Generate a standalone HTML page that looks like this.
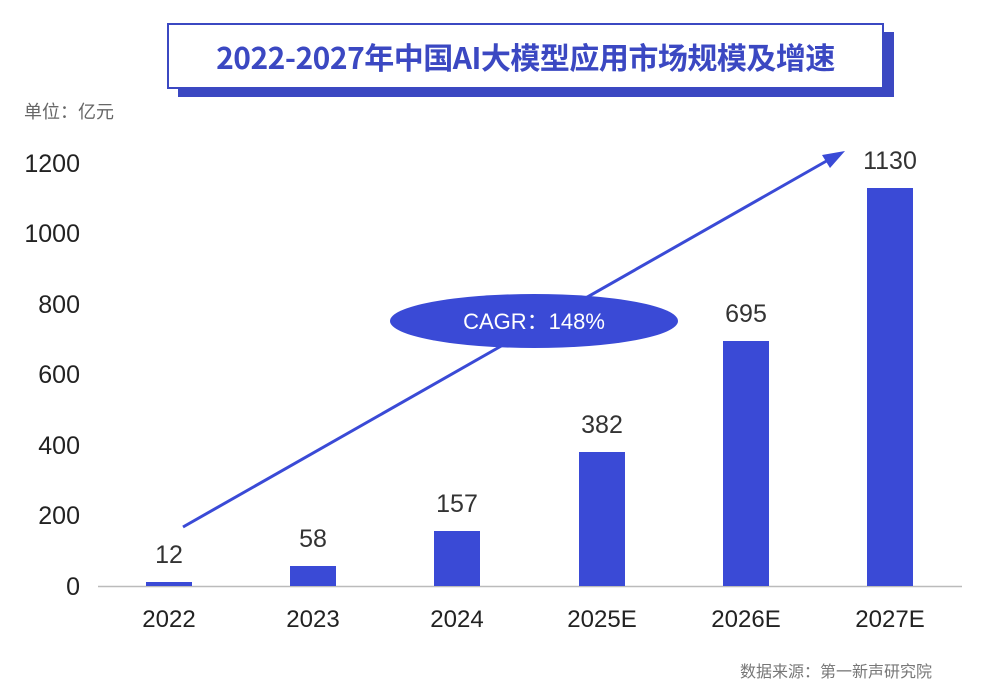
<!DOCTYPE html>
<html><head><meta charset="utf-8"><style>
body{margin:0;width:1004px;height:694px;background:#fff;overflow:hidden;position:relative;font-family:"Liberation Sans","Noto Sans CJK SC",sans-serif}
.a{position:absolute}
</style></head><body>
<div class="a" style="left:178px;top:32px;width:716px;height:65px;background:#3b48c2"></div>
<div class="a" style="left:167px;top:23px;width:713px;height:62px;background:#fff;border:2px solid #3b48c2"></div>
<div class="a" style="left:167px;top:23px;width:717px;height:66px;line-height:66px;text-align:center;font-size:30px;font-weight:bold;color:#3b48c2;font-family:'Noto Sans CJK SC',sans-serif;letter-spacing:-0.5px">2022-2027年中国AI大模型应用市场规模及增速</div>
<div class="a" style="left:24px;top:98px;font-size:18px;color:#666;font-family:'Noto Sans CJK SC',sans-serif">单位：亿元</div>
<svg class="a" style="left:0;top:0" width="1004" height="694">
<g font-size="25" fill="#222" text-anchor="end" font-family="Liberation Sans, DejaVu Sans, sans-serif">
<text x="80" y="595">0</text><text x="80" y="524">200</text><text x="80" y="454">400</text><text x="80" y="383">600</text><text x="80" y="313">800</text><text x="80" y="242">1000</text><text x="80" y="172">1200</text>
</g>
<line x1="98" y1="586.5" x2="962" y2="586.5" stroke="#bbb" stroke-width="1.5"/>
<g fill="#3a4ad6">
<rect x="146" y="582" width="46" height="4"/>
<rect x="290" y="566" width="46" height="20"/>
<rect x="434" y="531" width="46" height="55"/>
<rect x="579" y="452" width="46" height="134"/>
<rect x="723" y="341" width="46" height="245"/>
<rect x="867" y="188" width="46" height="398"/>
</g>
<g font-size="25" fill="#333" text-anchor="middle" font-family="Liberation Sans, DejaVu Sans, sans-serif">
<text x="169" y="563">12</text><text x="313" y="547">58</text><text x="457" y="512">157</text><text x="602" y="433">382</text><text x="746" y="322">695</text><text x="890" y="169">1130</text>
</g>
<g font-size="24" fill="#222" text-anchor="middle" font-family="Liberation Sans, DejaVu Sans, sans-serif">
<text x="169" y="627">2022</text><text x="313" y="627">2023</text><text x="457" y="627">2024</text><text x="602" y="627">2025E</text><text x="746" y="627">2026E</text><text x="890" y="627">2027E</text>
</g>
<line x1="183" y1="527" x2="830" y2="159" stroke="#3a4ad6" stroke-width="3"/>
<polygon points="845,151 822,155 830,168" fill="#3a4ad6"/>
<ellipse cx="534" cy="321" rx="144" ry="27" fill="#3a4ad6"/>
<text x="534" y="329" font-size="22" fill="#fff" text-anchor="middle" font-family="Liberation Sans, Noto Sans CJK SC, sans-serif">CAGR：148%</text>
<text x="932" y="677" font-size="16" fill="#777" text-anchor="end" font-family="Noto Sans CJK SC, sans-serif">数据来源：第一新声研究院</text>
</svg>
</body></html>
